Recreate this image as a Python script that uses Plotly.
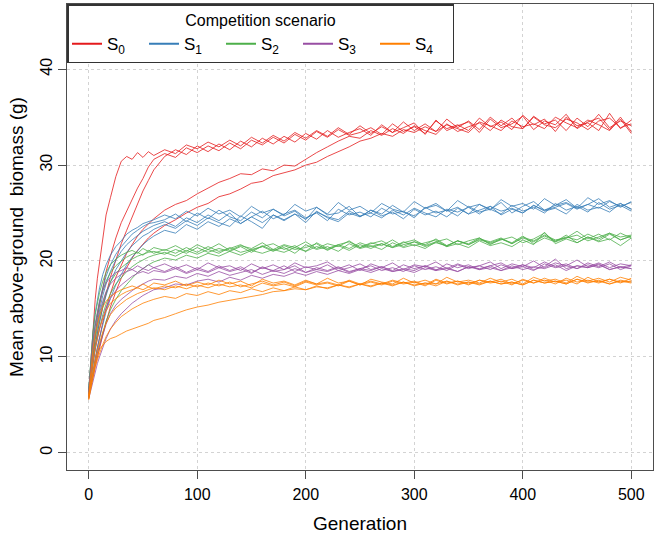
import plotly.graph_objects as go

generations = [0, 2, 4, 6, 8, 10, 13, 16, 20, 25, 30, 35, 40, 45, 50, 55, 60] + list(range(70, 501, 10))

scenario_names = ["S<sub>0</sub>", "S<sub>1</sub>", "S<sub>2</sub>", "S<sub>3</sub>", "S<sub>4</sub>"]
colors = ["#E41A1C", "#377EB8", "#4DAF4A", "#984EA3", "#FF7F00"]

S0 = [
    [6.2, 9.5, 13, 16, 18.2, 19.8, 22.5, 24.8, 26.6, 28.8, 30.4, 30.9, 30.6, 31.3, 30.8, 31.4, 31.0,
     31.6, 31.2, 32.1, 31.7, 32.4, 31.9, 32.6, 32.0, 32.9, 32.3,
     33.1, 32.5, 33.4, 32.8, 33.6, 33.0, 33.9, 33.2, 34.1, 33.3,
     34.0, 33.4, 34.5, 33.6, 34.3, 33.5, 34.8, 33.9, 34.6, 33.7,
     35.0, 34.1, 34.9, 33.8, 35.1, 34.3, 34.7, 33.6, 34.9, 34.0,
     35.3, 33.9, 34.6, 34.1],
    [6.0, 8.2, 10.4, 12.3, 14.1, 15.4, 17.3, 18.9, 20.5, 22.4, 24.0, 25.2, 26.5, 27.6, 28.6, 29.8, 30.6,
     31.2, 30.8, 31.8, 31.3, 32.0, 31.5, 32.3, 31.7, 32.6, 32.1,
     32.9, 32.3, 33.2, 32.6, 33.5, 32.9, 33.7, 33.1, 33.4, 33.9,
     33.2, 34.3, 33.5, 34.0, 33.3, 34.6, 33.8, 34.2, 33.6, 34.9,
     34.0, 34.5, 33.7, 35.2, 34.2, 34.8, 33.5, 35.0, 34.1, 34.4,
     33.6, 35.4, 33.8, 34.7],
    [6.4, 7.8, 9.6, 11.2, 12.6, 13.7, 15.2, 16.6, 18.3, 20.1, 21.8, 23.2, 24.6, 26.0, 27.3, 28.4, 29.5,
     30.9, 31.6, 31.1, 32.0, 31.4, 32.2, 31.6, 32.5, 31.9, 32.8,
     32.2, 33.0, 32.4, 33.3, 32.7, 33.6, 32.9, 33.4, 33.8, 33.1,
     34.2, 33.4, 33.9, 34.4, 33.2, 34.7, 33.6, 34.1, 34.5, 33.4,
     34.8, 33.9, 34.3, 35.1, 33.7, 34.6, 34.2, 35.3, 33.8, 34.5,
     34.9, 33.7, 35.0, 33.5],
    [5.9, 7.0, 8.4, 9.8, 11.0, 12.1, 13.6, 15.0, 16.6, 18.3, 19.6, 20.8, 21.7, 22.6, 23.3, 23.9, 24.4,
     25.3, 25.9, 26.3, 27.0, 27.6, 28.2, 28.6, 29.1, 29.0, 29.6,
     29.4, 30.0, 29.9, 30.6, 31.3, 31.9, 32.5, 33.0, 32.8, 33.6,
     33.1, 33.8, 33.3, 34.1, 33.6, 33.2, 34.3, 33.5, 34.0, 34.4,
     33.6, 34.7, 34.0, 33.8, 35.0, 34.2, 33.9, 34.8, 34.4, 33.7,
     34.6, 34.9, 33.9, 34.3],
    [6.1, 6.9, 7.9, 9.0, 10.0, 10.9, 12.3, 13.6, 15.2, 16.8, 18.2, 19.3, 20.3, 21.1, 21.8, 22.4, 22.9,
     23.7, 24.3, 25.0, 25.6, 26.0, 26.7, 27.0, 27.5, 28.1, 28.3,
     28.9, 29.2, 29.5, 30.0, 30.3, 30.9, 31.4, 31.9, 32.5, 32.8,
     33.3, 33.0, 33.7, 33.4, 34.0, 33.5, 34.2, 33.8, 33.4, 34.5,
     34.1, 33.6, 34.6, 34.0, 34.3, 33.8, 35.0, 34.4, 33.9, 34.7,
     34.2, 33.6, 34.8, 33.3],
]

S1 = [
    [6.5, 9.8, 12.6, 14.6, 16.0, 17.2, 18.6, 19.6, 20.6, 21.5, 22.1, 22.8, 23.2, 23.5, 23.9, 24.1, 24.3,
     24.8, 24.4, 25.2, 24.7, 25.5, 24.9, 25.3, 24.6, 25.7, 25.0,
     25.4, 24.8, 25.9, 25.2, 25.6, 24.9, 26.1, 25.3, 25.7, 25.0,
     26.0, 25.4, 25.1, 26.2, 25.5, 25.8, 25.2, 26.3, 25.6, 25.9,
     25.3, 26.4, 25.7, 26.0, 25.4, 26.5, 25.8, 26.1, 25.5, 26.6,
     25.9, 26.3, 25.6, 26.2],
    [6.3, 9.0, 11.4, 13.2, 14.6, 15.8, 17.2, 18.4, 19.6, 20.7, 21.5, 22.2, 22.8, 23.2, 23.6, 23.9, 24.0,
     24.3, 24.9, 24.1, 25.0, 24.4, 25.3, 24.6, 24.2, 25.1, 24.5,
     25.4, 24.7, 25.2, 24.3, 25.6, 24.8, 25.0, 25.7, 24.6, 25.3,
     24.9, 25.8, 25.1, 24.7, 25.5, 26.0, 25.2, 25.6, 24.9, 25.9,
     25.4, 26.1, 25.0, 25.7, 26.2, 25.3, 25.8, 26.4, 25.5, 25.9,
     26.5, 25.6, 26.0, 25.4],
    [6.0, 8.4, 10.6, 12.3, 13.7, 14.9, 16.4, 17.6, 18.9, 20.1, 21.0, 21.7, 22.2, 22.7, 23.1, 23.4, 23.7,
     24.1, 23.6, 24.5, 24.0, 24.8, 24.2, 25.0, 23.9, 24.6, 25.2,
     24.4, 24.9, 25.3, 24.5, 25.0, 24.2, 25.4, 24.8, 25.1, 24.6,
     25.5, 24.9, 25.2, 24.5, 25.6, 25.0, 25.3, 24.7, 25.7, 25.1,
     25.4, 24.9, 25.8, 25.2, 25.6, 25.0, 26.0, 25.3, 25.7, 25.1,
     26.1, 25.4, 25.8, 25.2],
    [6.2, 7.9, 9.6, 11.1, 12.5, 13.6, 15.2, 16.4, 17.8, 19.1, 20.0, 20.9, 21.6, 22.1, 22.6, 22.9, 23.3,
     23.8, 23.4, 24.2, 23.7, 24.5, 24.0, 23.6, 24.7, 24.1, 23.4,
     24.8, 24.3, 24.9, 24.0, 25.2, 24.5, 24.1, 25.0, 24.6, 25.3,
     24.7, 25.1, 24.4, 25.4, 24.8, 25.2, 24.6, 25.5, 24.9, 25.3,
     25.7, 24.8, 25.4, 25.0, 25.8, 25.2, 25.5, 24.9, 25.9, 25.3,
     25.6, 25.1, 26.0, 25.4],
    [5.8, 7.2, 8.6, 9.9, 11.0, 12.0, 13.4, 14.7, 16.1, 17.5, 18.6, 19.6, 20.4, 21.1, 21.7, 22.2, 22.6,
     23.2, 22.9, 23.8, 23.3, 24.1, 23.6, 24.4, 23.9, 24.6, 24.0,
     24.8, 24.2, 24.9, 24.4, 25.1, 24.6, 24.3, 25.2, 24.7, 25.0,
     24.5, 25.3, 24.8, 25.5, 25.0, 24.6, 25.4, 25.1, 25.6, 24.9,
     25.7, 25.2, 25.5, 25.0, 25.8, 25.3, 25.6, 26.0, 25.4, 25.9,
     25.5, 26.2, 25.7, 26.1],
]

S2 = [
    [6.6, 10.0, 12.6, 14.4, 15.7, 16.7, 17.9, 18.8, 19.6, 20.2, 20.6, 20.9, 21.1, 20.8, 21.3, 21.0, 21.4,
     21.1, 21.6, 21.0, 21.7, 21.2, 21.8, 21.1, 21.6, 21.3, 21.9,
     21.2, 21.7, 21.4, 22.0, 21.3, 21.8, 21.5, 22.1, 21.4, 21.9,
     21.6, 22.2, 21.5, 22.0, 21.7, 22.3, 21.6, 22.1, 21.8, 22.4,
     21.7, 22.3, 21.9, 22.6, 21.8, 22.4, 22.0, 22.7, 21.9, 22.5,
     22.1, 22.8, 22.2, 22.6],
    [6.3, 9.1, 11.4, 13.2, 14.5, 15.6, 16.9, 17.9, 18.8, 19.5, 20.0, 20.4, 20.7, 20.9, 20.6, 21.1, 20.8,
     21.2, 20.8, 21.4, 20.9, 21.5, 21.0, 21.3, 21.7, 21.1, 21.5,
     21.8, 21.2, 21.6, 21.0, 21.9, 21.3, 21.7, 22.0, 21.4, 21.8,
     22.1, 21.5, 21.9, 22.2, 21.6, 22.0, 22.3, 21.7, 22.1, 22.4,
     21.8, 22.2, 22.5, 21.9, 22.3, 22.9, 22.0, 22.4, 22.7, 22.1,
     22.5, 22.9, 22.2, 22.6],
    [6.0, 8.2, 10.1, 11.8, 13.1, 14.2, 15.6, 16.7, 17.8, 18.7, 19.3, 19.8, 20.2, 20.5, 20.7, 20.9, 21.0,
     20.7, 21.2, 20.8, 21.4, 20.9, 21.3, 21.0, 21.5, 20.9, 21.6,
     21.1, 21.4, 20.8, 21.7, 21.2, 21.5, 21.0, 21.8, 21.3, 21.6,
     21.2, 21.9, 21.4, 21.7, 21.3, 22.0, 21.5, 21.8, 21.4, 22.1,
     21.6, 21.9, 21.5, 22.2, 21.7, 23.0, 21.8, 22.3, 21.9, 22.5,
     22.0, 22.3, 21.6, 22.4],
    [6.2, 7.9, 9.4, 10.8, 12.0, 13.0, 14.4, 15.5, 16.6, 17.6, 18.3, 18.9, 19.4, 19.8, 20.1, 20.4, 20.6,
     20.9, 20.5, 21.1, 20.7, 21.2, 20.8, 21.4, 20.9, 21.2, 21.5,
     21.0, 21.6, 21.2, 21.4, 21.8, 21.1, 21.7, 21.3, 21.9, 21.5,
     21.8, 21.4, 22.0, 21.6, 21.9, 22.2, 21.5, 22.1, 21.7, 22.3,
     22.0, 22.4, 21.8, 22.5, 22.1, 22.7, 22.2, 22.4, 23.1, 22.3,
     22.8, 22.2, 22.9, 22.4],
    [5.7, 7.0, 8.3, 9.4, 10.4, 11.3, 12.6, 13.7, 14.9, 16.0, 16.9, 17.6, 18.2, 18.8, 19.2, 19.6, 19.9,
     20.3, 20.1, 20.6, 20.3, 20.8, 20.5, 21.0, 20.6, 21.1, 20.8,
     21.2, 20.9, 21.4, 21.0, 21.5, 21.2, 21.6, 21.1, 21.7, 21.3,
     21.8, 21.4, 21.7, 22.0, 21.5, 21.9, 21.6, 22.1, 21.7, 22.2,
     21.9, 22.3, 21.8, 22.4, 22.0, 22.6, 22.1, 22.5, 22.2, 22.8,
     22.3, 22.9, 22.5, 22.7],
]

S3 = [
    [6.4, 9.4, 11.8, 13.5, 14.8, 15.8, 16.9, 17.7, 18.3, 18.8, 19.0, 19.3, 19.1, 19.5, 19.2, 19.6, 19.3,
     19.7, 19.2, 19.6, 19.1, 19.8, 19.3, 19.5, 19.0, 19.7, 19.2,
     19.6, 19.1, 19.8, 19.3, 19.5, 19.9, 19.2, 19.6, 19.0, 19.7,
     19.3, 19.8, 19.1, 19.6, 19.4, 19.9, 19.2, 19.7, 19.3, 19.5,
     19.9, 19.2, 19.7, 19.4, 20.0, 19.3, 19.8, 19.5, 20.1, 19.4,
     19.8, 19.3, 19.7, 19.5],
    [6.1, 8.6, 10.7, 12.3, 13.6, 14.6, 15.8, 16.8, 17.6, 18.2, 18.6, 18.9, 19.1, 18.8, 19.2, 19.0, 19.3,
     18.9, 19.4, 18.8, 19.3, 18.9, 19.5, 19.0, 19.4, 18.8, 19.3,
     19.0, 19.5, 18.9, 19.4, 19.1, 19.6, 19.0, 19.3, 19.7, 19.1,
     19.4, 19.0, 19.6, 19.2, 19.5, 19.0, 19.7, 19.3, 19.6, 19.1,
     19.5, 19.8, 19.2, 19.6, 19.3, 19.9, 19.4, 19.7, 19.2, 19.8,
     19.4, 19.9, 19.3, 19.6],
    [5.9, 7.8, 9.4, 10.8, 11.9, 12.9, 14.1, 15.1, 16.1, 16.9, 17.5, 18.0, 18.4, 18.7, 18.9, 18.7, 19.0,
     18.8, 19.2, 18.7, 19.1, 18.8, 19.3, 18.9, 19.2, 18.7, 19.4,
     18.9, 19.1, 19.5, 18.8, 19.3, 19.0, 19.4, 18.9, 19.2, 19.5,
     19.0, 19.3, 18.9, 19.5, 19.1, 19.4, 19.0, 19.6, 19.2, 19.5,
     19.1, 19.6, 19.2, 19.4, 19.0, 19.7, 19.3, 19.5, 19.2, 19.6,
     19.3, 19.7, 19.1, 19.5],
    [5.8, 7.1, 8.3, 9.4, 10.4, 11.2, 12.4, 13.4, 14.5, 15.4, 16.0, 16.5, 16.9, 17.3, 17.6, 17.9, 18.1,
     18.0, 18.4, 18.2, 18.7, 18.4, 18.9, 18.5, 18.8, 19.1, 18.6,
     19.0, 18.7, 19.2, 18.8, 19.1, 18.9, 19.3, 18.8, 19.2, 19.0,
     19.4, 18.9, 19.2, 19.0, 19.5, 19.1, 19.3, 18.9, 19.4, 19.2,
     19.5, 19.0, 19.3, 19.6, 19.1, 19.4, 20.2, 19.2, 19.5, 19.3,
     19.7, 19.1, 19.4, 19.2],
    [5.6, 6.6, 7.6, 8.5, 9.3, 10.0, 11.0, 11.9, 12.9, 13.8, 14.5, 15.1, 15.6, 16.0, 16.4, 16.7, 17.0,
     17.2, 17.6, 17.5, 17.9, 18.1, 17.8, 18.3, 18.0, 18.5, 18.2,
     18.6, 18.4, 18.8, 18.5, 18.9, 18.6, 19.0, 18.7, 19.1, 18.8,
     19.2, 18.9, 19.1, 18.8, 19.3, 19.0, 19.2, 18.9, 19.4, 19.1,
     19.3, 19.0, 19.5, 19.1, 19.4, 19.2, 19.6, 19.0, 19.5, 19.3,
     19.6, 19.1, 19.4, 19.2],
]

S4 = [
    [6.0, 8.8, 10.9, 12.4, 13.5, 14.3, 15.2, 15.8, 16.3, 16.7, 17.0, 17.2, 17.4, 17.2, 17.6, 17.3, 17.7,
     17.5, 17.9, 17.4, 17.8, 17.5, 18.0, 17.6, 17.9, 17.4, 18.1,
     17.7, 17.9, 17.5, 18.0, 17.6, 18.2, 17.7, 17.9, 17.5, 18.1,
     17.8, 17.6, 18.2, 17.7, 18.0, 17.6, 18.3, 17.8, 18.0, 17.7,
     18.2, 17.8, 18.1, 17.6, 18.3, 17.9, 18.1, 17.7, 18.4, 17.9,
     18.2, 17.8, 18.3, 18.0],
    [5.7, 7.8, 9.6, 11.0, 12.1, 13.0, 14.0, 14.8, 15.6, 16.1, 16.5, 16.8, 17.0, 17.2, 17.0, 17.3, 17.1,
     17.4, 17.2, 17.6, 17.3, 17.7, 17.4, 17.8, 17.3, 17.6, 17.9,
     17.5, 17.8, 17.4, 17.9, 17.6, 17.8, 17.5, 18.0, 17.6, 17.9,
     17.6, 18.0, 17.7, 17.9, 17.5, 18.1, 17.7, 17.9, 17.6, 18.0,
     17.8, 18.1, 17.6, 18.0, 17.7, 18.2, 17.8, 18.0, 17.6, 18.3,
     17.8, 18.1, 17.7, 18.2],
    [5.9, 7.2, 8.6, 9.7, 10.7, 11.5, 12.6, 13.5, 14.4, 15.1, 15.6, 16.0, 16.3, 16.6, 16.8, 17.0, 17.2,
     17.0, 17.4, 17.1, 17.5, 17.2, 17.6, 17.3, 17.5, 17.2, 17.7,
     17.4, 17.6, 17.3, 17.8, 17.5, 17.7, 17.4, 17.9, 17.5, 17.8,
     17.5, 17.9, 17.6, 17.8, 17.4, 18.0, 17.6, 17.9, 17.5, 18.0,
     17.7, 17.9, 17.5, 18.1, 17.7, 18.0, 17.6, 18.2, 17.8, 18.0,
     17.7, 18.1, 17.8, 17.9],
    [5.6, 6.8, 7.9, 8.9, 9.7, 10.4, 11.3, 12.1, 12.9, 13.6, 14.2, 14.6, 15.0, 15.3, 15.6, 15.8, 16.0,
     16.3, 16.1, 16.6, 16.4, 16.8, 16.5, 16.9, 16.7, 17.1, 16.8,
     17.2, 16.9, 17.3, 17.0, 17.4, 17.1, 17.5, 17.2, 17.6, 17.3,
     17.7, 17.4, 17.8, 17.5, 17.7, 17.4, 17.9, 17.6, 17.8, 17.5,
     17.9, 17.6, 17.8, 17.5, 18.0, 17.7, 17.9, 17.6, 18.1, 17.7,
     18.0, 17.6, 17.9, 17.7],
    [5.5, 7.0, 8.3, 9.3, 10.1, 10.8, 11.2, 11.6, 11.9, 12.1, 12.4, 12.7, 12.9, 13.1, 13.3, 13.5, 13.8,
     14.1, 14.5, 14.9, 15.2, 15.4, 15.7, 15.9, 16.1, 16.3, 16.5,
     16.8, 16.9, 17.1, 17.0, 17.3, 17.2, 17.5, 17.3, 17.6, 17.4,
     17.7, 17.5, 17.8, 17.4, 17.7, 17.6, 17.9, 17.5, 17.8, 17.6,
     17.9, 17.6, 17.8, 17.5, 18.0, 17.7, 17.9, 17.6, 18.1, 17.8,
     17.9, 17.6, 18.0, 17.8],
]

x_ticks = [0, 100, 200, 300, 400, 500]
y_ticks = [0, 10, 20, 30, 40]

FONT = "Liberation Sans, Arial, sans-serif"
AXCOL = "#4d4d4d"

fig = go.Figure()
for name, color, reps in zip(scenario_names, colors, [S0, S1, S2, S3, S4]):
    for vals in reps:
        fig.add_trace(go.Scatter(
            x=generations, y=vals, mode="lines",
            line=dict(color=color, width=0.8),
            name=name, legendgroup=name, showlegend=False,
        ))
    # legend-only entry with a thicker key line
    fig.add_trace(go.Scatter(
        x=[None], y=[None], mode="lines",
        line=dict(color=color, width=2),
        name=name, legendgroup=name, showlegend=True,
    ))

fig.update_layout(
    width=661, height=542,
    margin=dict(l=67, r=8, t=4, b=72),
    paper_bgcolor="white", plot_bgcolor="white",
    font=dict(family=FONT, size=16, color="black"),
    showlegend=True,
    legend=dict(
        x=0, y=1, xanchor="left", yanchor="top",
        orientation="h",
        bgcolor="white", bordercolor="#333333", borderwidth=1.5,
        title=dict(text="Competition scenario", side="top center", font=dict(size=16)),
        font=dict(size=17),
        entrywidth=32, entrywidthmode="pixels",
        itemwidth=30,
    ),
    xaxis=dict(
        range=[-20, 520], tickvals=x_ticks, ticktext=[str(v) for v in x_ticks],
        showgrid=True, gridcolor="#d3d3d3", griddash="dot", gridwidth=1,
        zeroline=False, showline=True, mirror=True, linecolor=AXCOL, linewidth=1.2,
        ticks="outside", ticklen=8, tickcolor=AXCOL, tickwidth=1,
        tickfont=dict(size=16), ticklabelstandoff=2,
        title=dict(text="Generation", font=dict(size=19), standoff=14),
    ),
    yaxis=dict(
        range=[-1.8, 46.8], tickvals=y_ticks, ticktext=[str(v) for v in y_ticks],
        showgrid=True, gridcolor="#d3d3d3", griddash="dot", gridwidth=1,
        zeroline=False, showline=True, mirror=True, linecolor=AXCOL, linewidth=1.2,
        ticks="outside", ticklen=8, tickcolor=AXCOL, tickwidth=1,
        tickfont=dict(size=16), tickangle=-90,
        title=dict(text="Mean above-ground  biomass (g)", font=dict(size=19), standoff=8),
    ),
)

fig.write_html("out.html")
